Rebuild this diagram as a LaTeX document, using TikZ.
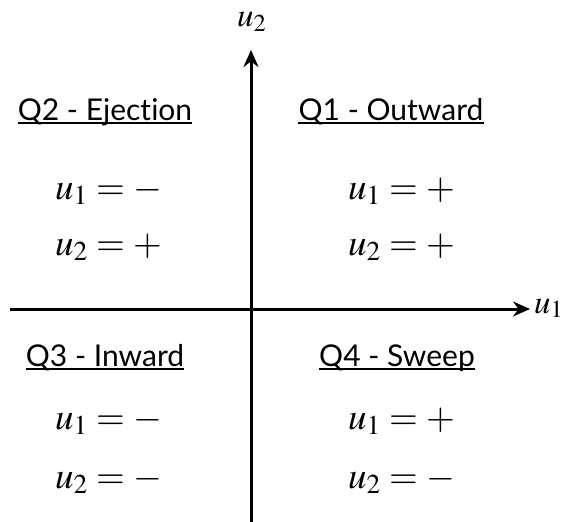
\documentclass[tikz,border=0pt]{standalone}
\usepackage[no-math]{fontspec}
\usepackage{mathptmx}
\usetikzlibrary{arrows.meta,positioning}
\newfontfamily\headfamily[Ligatures=NoCommon]{Lato}
\newcommand\headfont{\headfamily\fontsize{30}{35}\selectfont}
\newcommand\eqfont{\fontsize{37}{44}\selectfont}
\newcommand\axfont{\fontsize{33}{39}\selectfont}

\begin{document}
\begin{tikzpicture}[
  x=1pt, y=-1pt,
  axis/.style={line width=3pt, -{Stealth[length=17pt,width=15pt]}},
  heading/.style={inner sep=0pt, anchor=base, font=\headfont},
  eqn/.style={inner sep=0pt, anchor=base west, font=\eqfont},
  axlabel/.style={inner sep=0pt, anchor=base west, font=\axfont},
  uline/.style={line width=1.3pt}
]
  \useasboundingbox (0,0) rectangle (566,522);

  % axes
  \coordinate (xl) at (10,309);
  \coordinate (xr) at (530,309);
  \coordinate (yb) at (251,522);
  \coordinate (yt) at (251,50);
  \draw[axis] (xl) -- (xr);
  \draw[axis] (yb) -- (yt);
  \node[axlabel] (lu1) at (534,313) {$u_1$};
  \node[axlabel] (lu2) at (237,27) {$u_2$};

  % quadrant headings
  \node[heading] (hq2) at (105,120) {Q2 - Ejection};
  \node[heading] (hq1) at (391,120) {Q1 - Outward};
  \node[heading] (hq3) at (105,366) {Q3 - Inward};
  \node[heading] (hq4) at (397,366) {Q4 - Sweep};
  \foreach \h in {hq1,hq2,hq3,hq4}
    \draw[uline] ([yshift=-3pt]\h.base west) -- ([yshift=-3pt]\h.base east);

  % signs
  \node[eqn] (q2a) at (55,199) {$u_1 = -$};
  \node[eqn] (q2b) at (55,255) {$u_2 = +$};
  \node[eqn] (q1a) at (348,199) {$u_1 = +$};
  \node[eqn] (q1b) at (348,255) {$u_2 = +$};
  \node[eqn] (q3a) at (55,429) {$u_1 = -$};
  \node[eqn] (q3b) at (55,488) {$u_2 = -$};
  \node[eqn] (q4a) at (348,429) {$u_1 = +$};
  \node[eqn] (q4b) at (348,488) {$u_2 = -$};
\end{tikzpicture}
\end{document}
